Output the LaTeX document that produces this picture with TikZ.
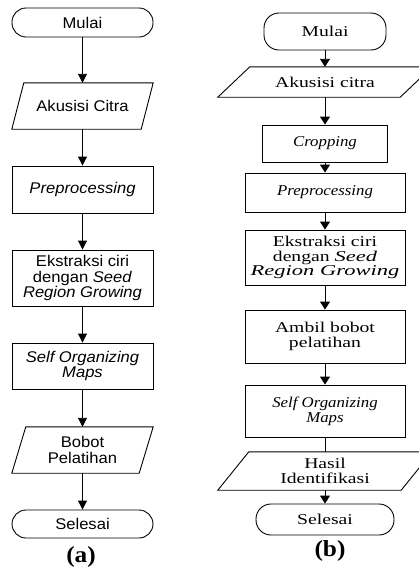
\documentclass[tikz,border=0pt]{standalone}
\usepackage{fontspec}
\usetikzlibrary{arrows.meta}
\newfontfamily\sfa[FakeStretch=1.07]{Liberation Sans}
\newfontfamily\rmb[FakeStretch=1.31]{Liberation Serif}
\newfontfamily\rmbi[FakeStretch=1.12]{Liberation Serif}
\newfontfamily\rmbw[FakeStretch=1.5]{Liberation Serif}
\newfontfamily\lblf[FakeStretch=1.1]{Liberation Serif}
\newcommand\itn[1]{{\rmbi\itshape #1}}
\newcommand\itw[1]{{\rmbw\itshape #1}}
\begin{document}
\begin{tikzpicture}[x=1pt,y=-1pt,
  ln/.style={line width=0.9pt},
  fa/.style={font=\sfa\fontsize{15.5}{15.5}\selectfont, align=center, inner sep=0pt},
  fb/.style={font=\rmb\fontsize{15}{14.8}\selectfont, align=center, inner sep=0pt},
  boxa/.style={fa, draw, ln, minimum width=141pt},
  terma/.style={boxa, rounded corners=14pt},
  paraa/.style={fa, minimum width=141pt},
  boxb/.style={fb, draw, ln},
  termb/.style={boxb, rounded corners=15pt},
  parab/.style={fb, minimum width=214pt},
  arra/.style={ln, -{Triangle[width=9pt,length=9pt]}},
  arrb/.style={ln, -{Triangle[width=10pt,length=8pt]}},
  lbl/.style={font=\lblf\bfseries\fontsize{23}{23}\selectfont, inner sep=0pt}
]
\useasboundingbox (0,0) rectangle (419,573);
\clip (0,0) rectangle (419,573);

% ---------- (a) ----------
\node[terma, minimum height=29pt] (a1) at (82.5,22.5) {Mulai};
\node[paraa, minimum height=46pt] (a2) at (82.5,106) {Akusisi Citra};
\draw[ln] ([xshift=12pt]a2.north west) -- (a2.north east) -- ([xshift=-12pt]a2.south east) -- (a2.south west) -- cycle;
\node[boxa, minimum height=47pt] (a3) at (82.5,189.5) {\textit{Preprocessing}};
\node[boxa, minimum height=56pt] (a4) at (82.5,278) {Ekstraksi ciri\\dengan \textit{Seed}\\\textit{Region Growing}};
\node[boxa, minimum height=46pt] (a5) at (82.5,366) {\textit{Self Organizing}\\\textit{Maps}};
\node[paraa, minimum height=46pt] (a6) at (82.5,450) {Bobot\\Pelatihan};
\draw[ln] ([xshift=14pt]a6.north west) -- (a6.north east) -- ([xshift=-14pt]a6.south east) -- (a6.south west) -- cycle;
\node[terma, minimum height=28pt] (a7) at (82.5,524) {Selesai};
\node[lbl] (la) at (81,557) {(a)};

\draw[arra] (a1) -- (a2);
\draw[arra] (a2) -- (a3);
\draw[arra] (a3) -- (a4);
\draw[arra] (a4) -- (a5);
\draw[arra] (a5) -- (a6);
\draw[arra] (a6) -- (a7);

% ---------- (b) ----------
\node[termb, minimum width=122pt, minimum height=37pt] (b1) at (325,31.5) {Mulai};
\node[parab, minimum height=30pt] (b2) at (325,82) {Akusisi citra};
\draw[ln] ([xshift=32pt]b2.north west) -- (b2.north east) -- ([xshift=-32pt]b2.south east) -- (b2.south west) -- cycle;
\node[boxb, minimum width=125pt, minimum height=37pt] (b3) at (325,143.5) {\itn{Cropping}};
\node[boxb, minimum width=160pt, minimum height=39pt] (b4) at (325,192.5) {\itn{Preprocessing}};
\node[boxb, minimum width=160pt, minimum height=55pt] (b5) at (325,257.5) {Ekstraksi ciri\\dengan \itw{Seed}\\\itw{Region Growing}};
\node[boxb, minimum width=160pt, minimum height=53pt] (b6) at (325,336.5) {Ambil bobot\\pelatihan};
\node[boxb, minimum width=160pt, minimum height=52pt] (b7) at (325,411) {\itn{Self Organizing}\\\itn{Maps}};
\node[parab, minimum height=38pt] (b8) at (325,471) {Hasil\\Identifikasi};
\draw[ln] ([xshift=31pt]b8.north west) -- (b8.north east) -- ([xshift=-31pt]b8.south east) -- (b8.south west) -- cycle;
\node[termb, minimum width=138pt, minimum height=31pt] (b9) at (325,519.5) {Selesai};
\node[lbl] (lb) at (330,551) {(b)};

\draw[arrb] (b1) -- (b2);
\draw[arrb] (b2) -- (b3);
\draw[arrb] (b3) -- (b4);
\draw[arrb] (b4) -- (b5);
\draw[arrb] (b5) -- (b6);
\draw[arrb] (b6) -- (b7);
\draw[ln] (b7) -- (b8);
\draw[arrb] (b8) -- (b9);
\end{tikzpicture}
\end{document}
